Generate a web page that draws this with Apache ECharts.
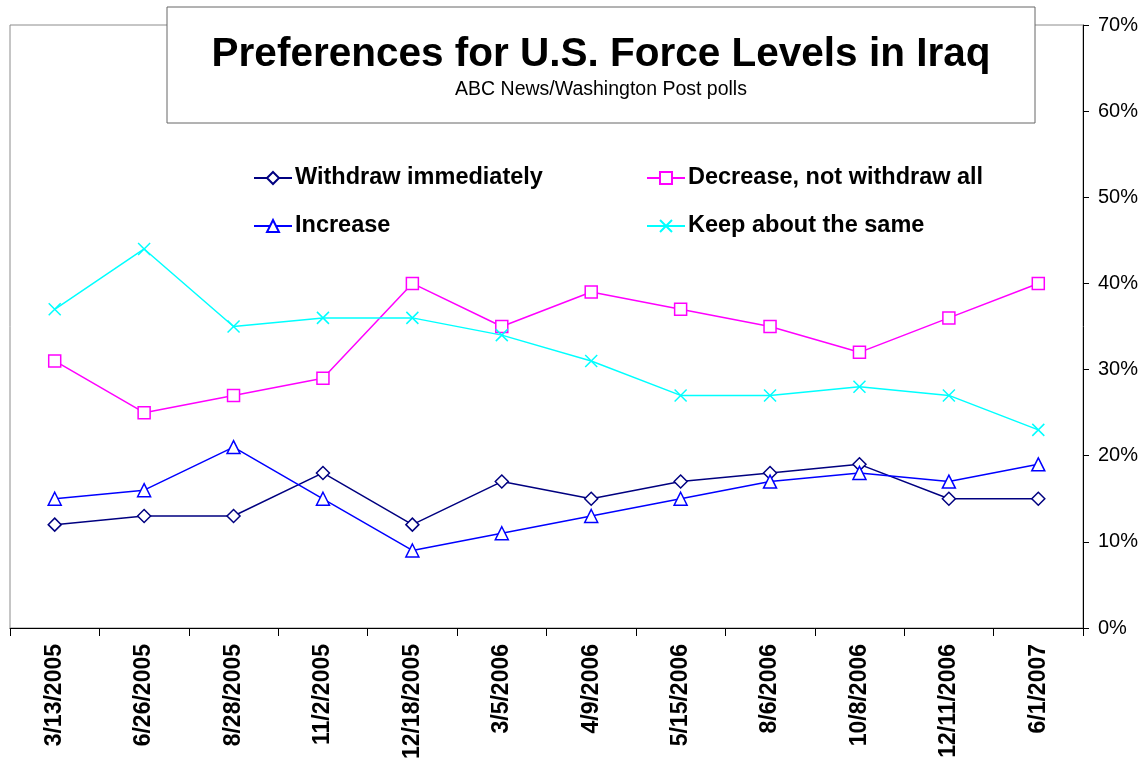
<!DOCTYPE html>
<html>
<head>
<meta charset="utf-8">
<script src="https://cdn.jsdelivr.net/npm/echarts@6/dist/echarts.min.js"></script>
<style>
  html, body { margin: 0; padding: 0; background: #fff; }
  #chart { width: 1143px; height: 767px; }
</style>
</head>
<body>
<div id="chart"></div>
<script>
// poll dates
var dates = ['3/13/2005', '6/26/2005', '8/28/2005', '11/2/2005', '12/18/2005', '3/5/2006',
             '4/9/2006', '5/15/2006', '8/6/2006', '10/8/2006', '12/11/2006', '6/1/2007'];

// percentages
var withdrawNow = [12, 13, 13, 18, 12, 17, 15, 17, 18, 19, 15, 15];
var decreaseSome = [31, 25, 27, 29, 40, 35, 39, 37, 35, 32, 36, 40];
var increase = [15, 16, 21, 15, 9, 11, 13, 15, 17, 18, 17, 19];
var keepSame = [37, 44, 35, 36, 36, 34, 31, 27, 27, 28, 27, 23];

var yTicks = [0, 10, 20, 30, 40, 50, 60, 70];

var FONT = 'Arial, "Liberation Sans", sans-serif';
var crossPath = 'path://M0,0L10,10M10,0L0,10';

var chart = echarts.init(document.getElementById('chart'));

function lineSeries(name, data, color, symbol, size) {
    return {
        name: name,
        type: 'line',
        data: data,
        symbol: symbol,
        symbolSize: size,
        showAllSymbol: true,
        lineStyle: { color: color, width: 1.5 },
        itemStyle: {
            color: symbol === crossPath ? 'none' : '#fff',
            borderColor: color,
            borderWidth: 1.5
        },
        emphasis: { disabled: true },
        z: 3
    };
}

function legendAt(name, left, top) {
    return {
        data: [name],
        left: left,
        top: top,
        itemWidth: 38,
        itemHeight: 15,
        itemGap: 0,
        selectedMode: false,
        textStyle: { fontFamily: FONT, fontSize: 23.5, fontWeight: 'bold', color: '#000', padding: [0, 0, 0, -2] }
    };
}

var option = {
    backgroundColor: '#fff',
    animation: false,
    grid: {
        left: 10, right: 60, top: 25, bottom: 139,
        show: true, borderColor: '#8c8c8c', borderWidth: 1, backgroundColor: 'transparent'
    },
    legend: [
        legendAt('Withdraw immediately', 248, 161),
        legendAt('Decrease, not withdraw all', 641, 161),
        legendAt('Increase', 248, 209),
        legendAt('Keep about the same', 641, 209)
    ],
    graphic: [
        {
            type: 'rect',
            shape: { x: 167, y: 7, width: 868, height: 116 },
            style: { fill: '#fff', stroke: '#666', lineWidth: 1 },
            z: 100
        },
        {
            type: 'text',
            x: 601, y: 55,
            style: {
                text: 'Preferences for U.S. Force Levels in Iraq',
                font: 'bold 40.5px ' + FONT,
                fill: '#000', textAlign: 'center', textVerticalAlign: 'middle'
            },
            z: 101
        },
        {
            type: 'text',
            x: 601, y: 90,
            style: {
                text: 'ABC News/Washington Post polls',
                font: '19.5px ' + FONT,
                fill: '#000', textAlign: 'center', textVerticalAlign: 'middle'
            },
            z: 101
        }
    ],
    xAxis: {
        type: 'category',
        data: dates,
        boundaryGap: true,
        axisLine: { show: true, lineStyle: { color: '#000', width: 1 } },
        axisTick: { show: true, length: 8, lineStyle: { color: '#000' } },
        axisLabel: {
            rotate: 90, margin: 16, interval: 0,
            fontFamily: FONT, fontSize: 23, fontWeight: 'bold', color: '#000'
        },
        splitLine: { show: false }
    },
    yAxis: {
        type: 'value',
        position: 'right',
        min: yTicks[0],
        max: yTicks[yTicks.length - 1],
        interval: 10,
        axisLine: { show: true, lineStyle: { color: '#000', width: 1 } },
        axisTick: { show: true, length: 6, lineStyle: { color: '#000' } },
        axisLabel: {
            formatter: '{value}%', margin: 15,
            fontFamily: FONT, fontSize: 20, color: '#000'
        },
        splitLine: { show: false }
    },
    series: [
        lineSeries('Withdraw immediately', withdrawNow, '#000080', 'diamond', 13),
        lineSeries('Decrease, not withdraw all', decreaseSome, '#ff00ff', 'rect', 12),
        lineSeries('Increase', increase, '#0000ff', 'triangle', 13),
        lineSeries('Keep about the same', keepSame, '#00ffff', crossPath, 12)
    ]
};

chart.setOption(option);
</script>
</body>
</html>
